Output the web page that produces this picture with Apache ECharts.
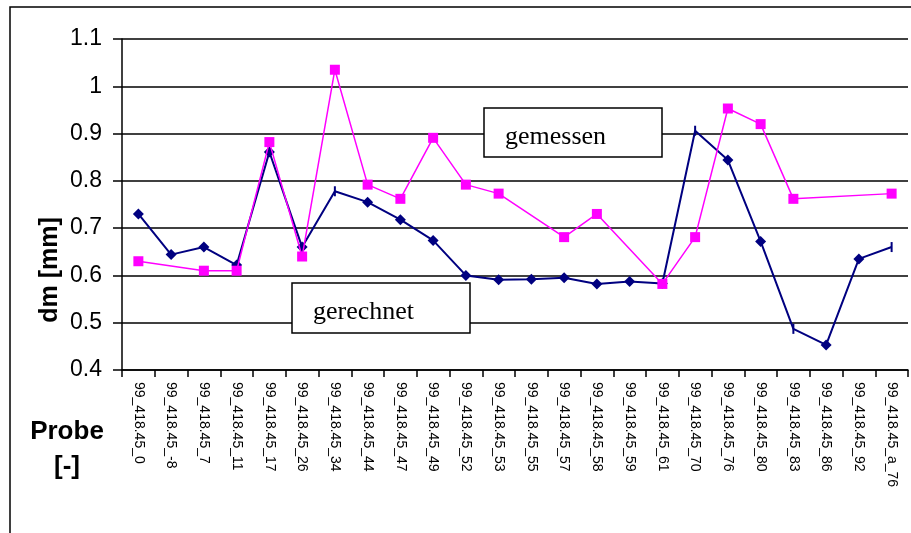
<!DOCTYPE html>
<html><head><meta charset="utf-8">
<script src="https://cdn.jsdelivr.net/npm/echarts@6/dist/echarts.min.js"></script>
<style>html,body{margin:0;padding:0;background:#fff}#c{width:911px;height:533px}</style>
</head><body><div id="c"></div>
<script>
var categories = ['99_418.45_0','99_418.45_-8','99_418.45_7','99_418.45_11','99_418.45_17','99_418.45_26','99_418.45_34','99_418.45_44','99_418.45_47','99_418.45_49','99_418.45_52','99_418.45_53','99_418.45_55','99_418.45_57','99_418.45_58','99_418.45_59','99_418.45_61','99_418.45_70','99_418.45_76','99_418.45_80','99_418.45_83','99_418.45_86','99_418.45_92','99_418.45_a_76'];
var gerechnet = [0.73,0.644,0.66,0.622,0.861,0.66,0.778,0.755,0.718,0.674,0.60,0.591,0.592,0.595,0.582,0.587,0.583,0.906,0.844,0.672,0.487,0.453,0.635,0.66];
var gemessen = [0.63,null,0.61,0.61,0.882,0.64,1.035,0.792,0.762,0.891,0.792,0.773,null,0.681,0.73,null,0.582,0.681,0.953,0.92,0.762,null,null,0.773];
var tickMarkerIdx = [6,17,20,23];
var yTicks = {min:0.4, max:1.1, step:0.1};

var chart = echarts.init(document.getElementById('c'), null, {renderer:'canvas'});
var gerData = gerechnet.map(function(v,i){
  if (tickMarkerIdx.indexOf(i) >= 0) return {value:v, symbol:'rect', symbolSize:[2,10]};
  return v;
});
chart.setOption({
  animation:false,
  backgroundColor:'#fff',
  grid:{left:122,right:3,top:39,bottom:163,containLabel:false},
  xAxis:{
    type:'category', data:categories, boundaryGap:true,
    axisLine:{lineStyle:{color:'#000',width:1.5}},
    axisTick:{show:true,length:7,lineStyle:{color:'#000',width:1.5}},
    axisLabel:{rotate:-90,interval:0,margin:12,color:'#000',fontFamily:'Liberation Sans, Arial',fontSize:14},
    splitLine:{show:false}
  },
  yAxis:{
    type:'value', min:yTicks.min, max:yTicks.max, interval:yTicks.step,
    axisLine:{show:true,lineStyle:{color:'#000',width:1.5}},
    axisTick:{show:true,length:9,lineStyle:{color:'#000',width:1.5}},
    axisLabel:{margin:20,color:'#000',fontFamily:'Liberation Sans, Arial',fontSize:23},
    splitLine:{show:true,lineStyle:{color:'#000',width:1.5}}
  },
  series:[
    {name:'gerechnet',type:'line',data:gerData,connectNulls:true,
     lineStyle:{color:'#000080',width:2},itemStyle:{color:'#000080'},
     symbol:'diamond',symbolSize:11,z:3},
    {name:'gemessen',type:'line',data:gemessen,connectNulls:true,
     lineStyle:{color:'#FF00FF',width:1.5},itemStyle:{color:'#FF00FF'},
     symbol:'rect',symbolSize:10,z:4}
  ],
  graphic:[
    {type:'rect',shape:{x:10,y:7,width:940,height:600},style:{fill:'none',stroke:'#000',lineWidth:1.5},z:1,silent:true},
    {type:'rect',shape:{x:484,y:108,width:178,height:49},style:{fill:'#fff',stroke:'#000',lineWidth:1.5},z:10},
    {type:'text',x:505,y:137,style:{text:'gemessen',font:'26px "Liberation Serif", "Times New Roman", serif',fill:'#000',textVerticalAlign:'middle'},z:11},
    {type:'rect',shape:{x:292,y:283,width:178,height:50},style:{fill:'#fff',stroke:'#000',lineWidth:1.5},z:10},
    {type:'text',x:313,y:312,style:{text:'gerechnet',font:'26px "Liberation Serif", "Times New Roman", serif',fill:'#000',textVerticalAlign:'middle'},z:11},
    {type:'text',x:50,y:270,rotation:Math.PI/2,style:{text:'dm [mm]',font:'bold 25px "Liberation Sans", Arial',fill:'#000',textAlign:'center',textVerticalAlign:'middle'},z:11},
    {type:'text',x:67,y:432,style:{text:'Probe',font:'bold 26px "Liberation Sans", Arial',fill:'#000',textAlign:'center',textVerticalAlign:'middle'},z:11},
    {type:'text',x:67,y:467,style:{text:'[-]',font:'bold 26px "Liberation Sans", Arial',fill:'#000',textAlign:'center',textVerticalAlign:'middle'},z:11}
  ]
});
</script></body></html>
